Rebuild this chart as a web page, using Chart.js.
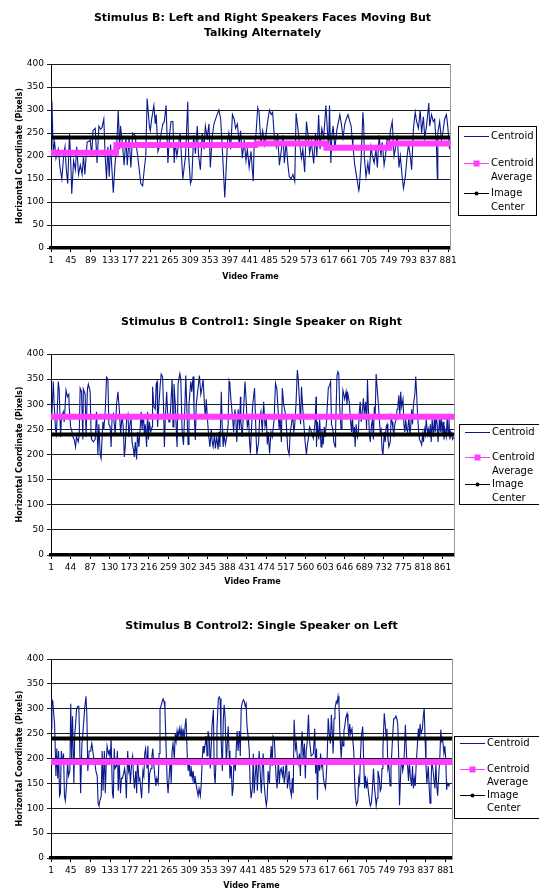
<!DOCTYPE html>
<html>
<head>
<meta charset="utf-8">
<title>Stimulus B centroid tracking</title>
<script src="https://cdn.jsdelivr.net/npm/chart.js@4.4.1/dist/chart.umd.min.js"></script>
<style>
  html, body { margin: 0; padding: 0; background: #fff; width: 539px; height: 889px; overflow: hidden; }
  canvas { position: absolute; left: 0; }
</style>
</head>
<body>
<canvas id="chart1" width="539" height="290" style="top:0px"></canvas>
<canvas id="chart2" width="539" height="292" style="top:298px"></canvas>
<canvas id="chart3" width="539" height="291" style="top:600px"></canvas>
<script>
// [frame, horizontal coordinate]
const centroid1 = [[1,245],[3,320],[6,210],[9,230],[12,195],[17,215],[21,175],[25,150],[29,200],[32,220],[35,170],[38,140],[42,250],[45,180],[47,118],[51,190],[55,170],[58,220],[62,160],[66,180],[70,160],[73,200],[76,160],[81,230],[85,232],[88,235],[91,200],[94,255],[99,260],[103,185],[107,265],[111,258],[114,262],[118,280],[121,200],[124,150],[127,220],[130,155],[133,225],[136,170],[139,120],[143,185],[146,210],[150,300],[153,215],[155,265],[159,230],[163,180],[167,240],[170,180],[174,240],[178,175],[182,250],[187,245],[193,200],[196,175],[200,140],[204,135],[208,175],[211,200],[214,325],[219,265],[221,255],[224,280],[229,310],[232,270],[234,290],[238,210],[241,220],[245,250],[249,270],[252,275],[256,310],[260,185],[264,250],[267,275],[271,275],[274,185],
  [276,230],[280,200],[287,250],[293,150],[299,200],[304,318],[306,200],[310,140],[313,150],[317,245],[321,205],[325,265],[328,200],[332,170],[336,250],[340,215],[343,265],[347,240],[351,270],[354,175],[358,240],[362,270],[369,290],[373,300],[377,280],[380,225],[386,110],[392,230],[395,250],[399,215],[403,290],[407,280],[410,260],[414,270],[418,225],[421,255],[425,195],[429,235],[433,190],[436,215],[440,175],[444,210],[449,145],[451,220],[455,245],[459,305],[462,295],[466,225],[470,255],[474,225],[477,245],[481,275],[485,300],[489,290],[492,295],[496,240],[500,220],[503,250],[507,180],[511,210],[515,245],[518,185],[522,230],[526,180],[529,155],[533,150],[537,160],[541,145],[544,293],[548,260],[552,225],[556,195],[559,215],[563,165],[567,275],[570,250],[574,205],[578,230],
  [583,184],[587,250],[590,200],[594,289],[597,215],[601,260],[605,240],[608,280],[610,310],[616,215],[618,310],[621,185],[623,240],[626,265],[630,215],[634,255],[637,270],[641,290],[645,265],[648,240],[652,270],[655,280],[659,290],[663,275],[666,265],[668,240],[670,220],[674,180],[683,125],[684,130],[688,190],[692,295],[694,265],[695,200],[699,155],[703,185],[706,160],[710,220],[713,200],[717,185],[721,215],[724,175],[728,245],[732,200],[735,230],[739,180],[742,200],[746,240],[750,225],[753,255],[757,275],[761,200],[764,215],[768,245],[772,175],[775,200],[779,155],[782,130],[786,155],[790,200],[793,225],[797,200],[800,170],[804,260],[808,295],[811,275],[815,260],[819,300],[822,250],[826,285],[829,240],[833,265],[838,315],[840,265],[844,290],[848,275],[851,280],[855,220],[857,150],[858,250],[862,275],[866,235],[869,250],[873,280],[877,290],[880,265],[884,215]];
const average1 = [[1,207],[145,207],[146,224],[455,224],[456,227],[610,227],[611,218],[750,218],[751,227],[885,227]];
const center1 = [[1,240],[885,240]];

const centroid2 = [[1,270],[3,280],[6,345],[8,300],[11,249],[13,240],[17,345],[19,330],[22,235],[24,275],[28,285],[30,265],[34,328],[37,315],[40,320],[41,295],[44,255],[46,250],[49,235],[52,230],[55,215],[57,235],[61,225],[63,240],[65,332],[68,325],[71,230],[72,330],[76,320],[78,235],[81,330],[83,340],[87,325],[89,240],[90,230],[94,225],[98,230],[101,285],[104,200],[106,260],[109,200],[111,192],[115,265],[117,250],[120,285],[123,354],[126,350],[128,260],[131,255],[133,215],[135,270],[138,280],[142,240],[145,300],[148,325],[151,290],[154,240],[157,280],[160,250],[162,195],[164,215],[167,270],[170,280],[172,235],[175,265],[177,270],[179,225],[182,210],[184,195],[186,225],[189,190],[191,245],[194,215],[197,255],[199,285],[201,250],[204,280],[206,240],[208,260],[211,215],[213,285],[215,230],[217,265],[220,245],[223,255],[224,335],[227,295],[230,290],[232,340],[234,345],[235,255],[238,300],[241,340],[243,360],[246,355],[248,300],[250,215],[252,270],[255,325],[257,285],[260,265],[262,265],
  [263,280],[267,350],[269,255],[271,340],[274,300],[277,230],[278,215],[280,340],[284,361],[286,350],[289,245],[292,219],[295,295],[297,357],[299,300],[302,220],[304,300],[308,345],[310,325],[313,355],[315,290],[318,229],[320,300],[323,325],[327,357],[330,320],[333,335],[335,350],[338,300],[340,270],[342,310],[345,265],[347,240],[350,215],[353,250],[355,225],[357,215],[360,240],[362,212],[365,235],[368,210],[370,245],[372,215],[375,325],[377,255],[379,215],[381,240],[384,220],[387,235],[390,260],[392,345],[394,335],[397,300],[400,270],[402,245],[405,290],[407,270],[409,225],[412,290],[415,250],[417,315],[418,265],[421,235],[424,290],[427,345],[430,300],[432,255],[435,270],[437,225],[439,202],[442,265],[444,300],[448,332],[451,245],[453,200],[457,225],[459,270],[462,285],[465,245],[468,305],[471,255],[474,270],[476,220],[478,245],[481,202],[484,245],[487,235],[491,270],[494,342],[497,330],[499,300],[502,250],[504,275],[507,225],[509,332],[512,300],[514,290],[517,275],[519,240],[521,210],[524,200],[526,240],[529,260],[532,280],[534,245],[536,255],[539,300],[542,368],[544,350],[547,300],[549,260],[551,335],[554,290],[556,265],[559,225],[562,200],[564,220],[566,230],[569,255],[573,245],
  [577,232],[581,265],[583,315],[584,215],[586,265],[589,230],[591,270],[594,215],[596,250],[599,220],[601,255],[603,235],[606,265],[608,300],[610,332],[613,338],[615,345],[617,260],[620,250],[622,225],[625,215],[626,250],[629,357],[631,365],[633,360],[635,295],[638,250],[640,275],[642,328],[644,320],[646,310],[649,325],[651,300],[653,320],[656,305],[658,275],[661,245],[663,280],[665,235],[667,255],[669,215],[671,260],[674,235],[676,245],[678,285],[680,305],[682,265],[685,290],[687,312],[689,280],[692,305],[694,250],[696,348],[698,290],[700,245],[702,225],[705,260],[707,270],[709,230],[711,295],[713,280],[715,360],[717,335],[720,300],[722,270],[724,245],[726,250],[728,210],[730,199],[733,245],[735,225],[737,255],[739,260],[741,230],[743,215],[746,225],[748,275],[750,265],[752,250],[754,240],[756,260],[759,270],[761,290],[763,300],[765,318],[767,275],[769,325],[771,295],[774,310],[776,260],[778,245],[780,270],[782,250],[784,245],[787,275],[789,240],[791,255],[793,290],[795,260],[797,300],[800,320],[802,355],[804,320],[806,280],[808,250],[810,230],[813,225],[815,219],[817,240],[819,225],[821,250],[823,240],[825,270],[828,240],[830,250],[832,235],[834,260],[836,225],[838,270],[841,235],[843,275],[845,245],[847,280],[849,260],[851,225],[854,270],[856,245],[858,280],[860,240],[862,265],[864,230],[866,250],[869,235],[871,275],[873,240],[875,270],[877,230],[879,245],[883,230],[886,235]];
const average2 = [[1,275],[886,275]];
const center2 = [[1,240],[886,240]];

const centroid3 = [[1,260],[3,318],[5,315],[7,290],[9,270],[12,165],[14,220],[16,160],[18,215],[20,125],[22,130],[24,215],[27,190],[29,210],[31,125],[33,115],[36,150],[38,195],[40,165],[43,175],[45,310],[47,200],[49,285],[52,150],[54,250],[56,270],[58,300],[61,305],[63,305],[65,230],[67,130],[70,230],[72,250],[74,275],[76,300],[79,325],[81,285],[83,175],[86,215],[88,215],[90,220],[92,230],[95,210],[97,195],[99,190],[101,175],[104,165],[106,110],[108,105],[110,115],[113,125],[115,215],[117,135],[120,215],[122,130],[124,185],[126,225],[129,210],[131,215],[133,200],[135,240],[138,130],[140,120],[142,220],[144,180],[147,185],[149,215],[151,135],[153,195],[156,130],[158,160],[160,160],[163,170],[165,180],[167,165],[169,120],[172,215],[174,175],[176,185],[178,150],[181,195],[183,205],[185,165],[187,140],[190,175],[192,130],[194,200],[197,155],[199,160],[201,140],[203,120],[206,175],[208,165],[210,210],[212,220],[215,180],[217,225],[219,130],[221,170],[224,180],[226,205],[228,220],[230,190],[233,160],[235,145],[237,160],[240,150],[242,210],[244,300],[246,305],[249,315],[251,320],[253,315],[255,300],[258,210],[260,155],[262,130],
  [267,200],[269,150],[271,215],[273,230],[276,200],[278,250],[280,235],[282,255],[284,240],[287,260],[289,245],[291,260],[293,240],[296,255],[298,240],[300,265],[302,281],[305,200],[307,175],[309,195],[311,165],[313,185],[316,160],[318,175],[320,150],[322,165],[325,145],[327,135],[329,125],[331,140],[334,125],[336,150],[338,195],[340,225],[342,210],[345,230],[347,245],[349,205],[351,255],[354,240],[356,180],[358,220],[360,265],[363,298],[365,170],[367,150],[369,200],[371,260],[374,320],[376,324],[378,320],[380,245],[383,175],[385,275],[387,308],[389,285],[392,190],[394,230],[396,265],[398,215],[400,160],[403,185],[405,125],[407,140],[409,200],[412,175],[414,220],[416,255],[418,215],[421,255],[423,205],[425,300],[427,311],[430,318],[432,315],[434,305],[436,310],[438,265],[441,240],[443,215],[445,150],[447,120],[450,140],[452,210],[454,130],[456,160],[459,200],[461,135],[463,175],[465,215],[468,160],[470,130],[472,180],[474,210],[476,150],[479,120],[481,105],[483,120],[485,175],[488,150],[490,200],[492,225],[494,185],[496,245],[499,240],[501,195],[503,160],[505,140],[508,200],[510,150],[512,175],[514,180],[517,165],[519,185],[521,150],[523,165],[526,200],[528,140],[530,155],[532,175],[534,140],[537,125],[539,160],[541,130],[543,278],[546,220],[548,230],[550,205],[552,190],[555,210],[557,165],[559,225],[561,254],[563,200],[566,230],[568,160],[570,215],[572,230],[575,288],[577,240],[581,205],
  [586,210],[589,260],[591,170],[593,220],[595,117],[597,195],[600,175],[602,210],[604,185],[606,195],[608,165],[610,150],[613,140],[615,170],[617,210],[619,281],[621,255],[624,230],[626,288],[628,255],[630,210],[632,280],[634,300],[637,315],[639,311],[641,325],[643,310],[645,250],[648,200],[650,240],[652,225],[654,255],[656,265],[658,281],[661,290],[663,270],[665,240],[667,270],[669,250],[672,260],[674,235],[676,215],[678,155],[680,120],[682,107],[685,115],[687,160],[689,150],[691,205],[693,245],[696,264],[698,200],[700,140],[702,165],[704,140],[706,155],[709,130],[711,115],[713,105],[715,110],[717,130],[720,180],[722,145],[724,125],[726,105],[728,120],[730,175],[733,160],[735,135],[737,140],[739,180],[741,220],[744,291],[746,270],[748,245],[750,260],[752,180],[754,190],[757,145],[759,180],[761,215],[763,250],[765,280],[767,280],[770,285],[772,280],[774,270],[776,210],[778,106],[781,180],[783,200],[785,175],[787,185],[789,215],[791,268],[794,200],[796,185],[798,155],[800,195],[802,165],[805,145],[807,185],[809,140],[811,160],[813,145],[815,185],[818,230],[820,260],[822,240],[824,270],[826,250],[829,260],[831,285],[833,301],[835,240],[837,185],[839,150],[842,185],[844,145],[846,110],[848,140],[850,195],[853,175],[855,155],[857,140],[859,190],[861,145],[863,125],[866,175],[868,205],[870,258],[872,235],[874,240],[877,210],[879,225],[881,200],[883,137],[885,150],[888,145],[890,150]];
const average3 = [[1,193],[895,193]];
const center3 = [[1,240],[895,240]];

// category labels shown under each plot
const frameTicks1 = [1,45,89,133,177,221,265,309,353,397,441,485,529,573,617,661,705,749,793,837,881];
const frameTicks2 = [1,44,87,130,173,216,259,302,345,388,431,474,517,560,603,646,689,732,775,818,861];
const frameTicks3 = [1,45,89,133,177,221,265,309,353,397,441,485,529,573,617,661,705,749,793,837,881];

const NAVY = '#0a1a8e';
const PINK = '#ff3cff';

Chart.defaults.font.family = '"DejaVu Sans", Verdana, sans-serif';
Chart.defaults.color = '#000';

// boxed legend at the right, drawn like the spreadsheet one
const legendBox = {
    id: 'legendBox',
    afterDraw(chart, args, opts) {
        const ctx = chart.ctx;
        ctx.save();
        ctx.fillStyle = '#fff';
        ctx.fillRect(opts.left, opts.top, opts.width, opts.height);
        ctx.strokeStyle = '#000';
        ctx.lineWidth = 1;
        ctx.strokeRect(opts.left + 0.5, opts.top + 0.5, opts.width, opts.height);
        ctx.font = '10px "DejaVu Sans"';
        ctx.textBaseline = 'middle';
        chart.data.datasets.forEach((ds, i) => {
            const y = opts.top + opts.rows[i];
            const x0 = opts.left + 6, x1 = opts.left + 31;
            ctx.strokeStyle = ds.borderColor;
            ctx.lineWidth = 1;
            ctx.beginPath();
            ctx.moveTo(x0, y + 0.5);
            ctx.lineTo(x1, y + 0.5);
            ctx.stroke();
            ctx.fillStyle = ds.borderColor;
            if (ds.pointStyle === 'rect') {
                ctx.fillRect((x0 + x1) / 2 - 3, y - 2.5, 6, 6);
            } else if (ds.pointStyle === 'circle') {
                ctx.beginPath();
                ctx.arc((x0 + x1) / 2, y + 0.5, 2, 0, Math.PI * 2);
                ctx.fill();
            }
            ctx.fillStyle = '#000';
            ds.label.split(' ').forEach((line, k) => {
                ctx.fillText(line, x1 + 2, y + k * opts.lh);
            });
        });
        ctx.restore();
    }
};

function makeChart(id, cfg) {
    const ctx = document.getElementById(id).getContext('2d');
    return new Chart(ctx, {
        type: 'line',
        data: {
            datasets: [
                { label: 'Centroid', data: cfg.centroid, borderColor: NAVY, borderWidth: 1.1, pointRadius: 0, tension: 0, order: 3 },
                { label: 'Centroid Average', data: cfg.average, borderColor: PINK, borderWidth: 6, pointRadius: 0, pointStyle: 'rect', order: 2 },
                { label: 'Image Center', data: cfg.center, borderColor: '#000', borderWidth: 4, pointRadius: 0, pointStyle: 'circle', order: 1 }
            ]
        },
        options: {
            responsive: false,
            animation: false,
            events: [],
            layout: { padding: { left: 0, right: cfg.padRight, top: 0, bottom: 0 } },
            plugins: {
                legend: { display: false },
                tooltip: { enabled: false },
                title: {
                    display: true,
                    text: cfg.title,
                    color: '#000',
                    font: { size: 11, weight: 'bold', lineHeight: '15px' },
                    padding: cfg.titlePad
                },
                legendBox: cfg.legend
            },
            scales: {
                x: {
                    type: 'linear',
                    min: 1,
                    max: cfg.lastFrame,
                    afterBuildTicks: s => { s.ticks = cfg.ticks.map(v => ({ value: v })); },
                    afterFit: s => { s.height = cfg.xHeight; },
                    ticks: { autoSkip: false, maxRotation: 0, padding: 3, font: { size: 9 }, callback: v => String(v) },
                    grid: { drawOnChartArea: false, drawTicks: true, tickLength: 4, color: '#000' },
                    border: { display: true, color: '#000', width: 3.5 },
                    title: { display: true, text: 'Video Frame', font: { size: 8, weight: 'bold' }, padding: { top: 0, bottom: cfg.xTitleBottom } }
                },
                y: {
                    min: 0,
                    max: 400,
                    afterFit: s => { s.width = 51; },
                    ticks: { stepSize: 50, padding: 3, font: { size: 9 } },
                    grid: { color: '#1a1a1a', lineWidth: 1, tickLength: 4 },
                    border: { display: true, color: '#000', width: 1 },
                    title: { display: true, text: 'Horizontal Coordinate (Pixels)', font: { size: 8, weight: 'bold' }, padding: { top: 15, bottom: 0 } }
                },
                yR: {
                    position: 'right',
                    display: true,
                    afterFit: s => { s.width = cfg.legendSpace; },
                    ticks: { display: false },
                    grid: { display: false, drawTicks: false },
                    border: { display: true, color: '#999', width: 1 }
                }
            }
        },
        plugins: [legendBox]
    });
}

window.onload = function() {
    makeChart('chart1', {
        title: ['Stimulus B: Left and Right Speakers Faces Moving But', 'Talking Alternately'],
        titlePad: { top: 10.5, bottom: 23.5 },
        centroid: centroid1, average: average1, center: center1,
        lastFrame: 885, ticks: frameTicks1,
        padRight: 14, legendSpace: 75, xHeight: 42, xTitleBottom: 8.2,
        legend: { left: 458, top: 126, width: 78, height: 89, rows: [10, 37, 67], lh: 14.5 }
    });
    makeChart('chart2', {
        title: 'Stimulus B Control1: Single Speaker on Right',
        titlePad: { top: 16.5, bottom: 24.5 },
        centroid: centroid2, average: average2, center: center2,
        lastFrame: 886, ticks: frameTicks2,
        padRight: 16, legendSpace: 69, xHeight: 35, xTitleBottom: 3.2,
        legend: { left: 459, top: 126, width: 90, height: 80, rows: [8, 33, 60], lh: 14 }
    });
    makeChart('chart3', {
        title: 'Stimulus B Control2: Single Speaker on Left',
        titlePad: { top: 18.5, bottom: 25.5 },
        centroid: centroid3, average: average3, center: center3,
        lastFrame: 895, ticks: frameTicks3,
        padRight: 16, legendSpace: 71, xHeight: 33, xTitleBottom: 0.2,
        legend: { left: 454, top: 136, width: 90, height: 82, rows: [7, 33, 59], lh: 13.5 }
    });
};
</script>
</body>
</html>
